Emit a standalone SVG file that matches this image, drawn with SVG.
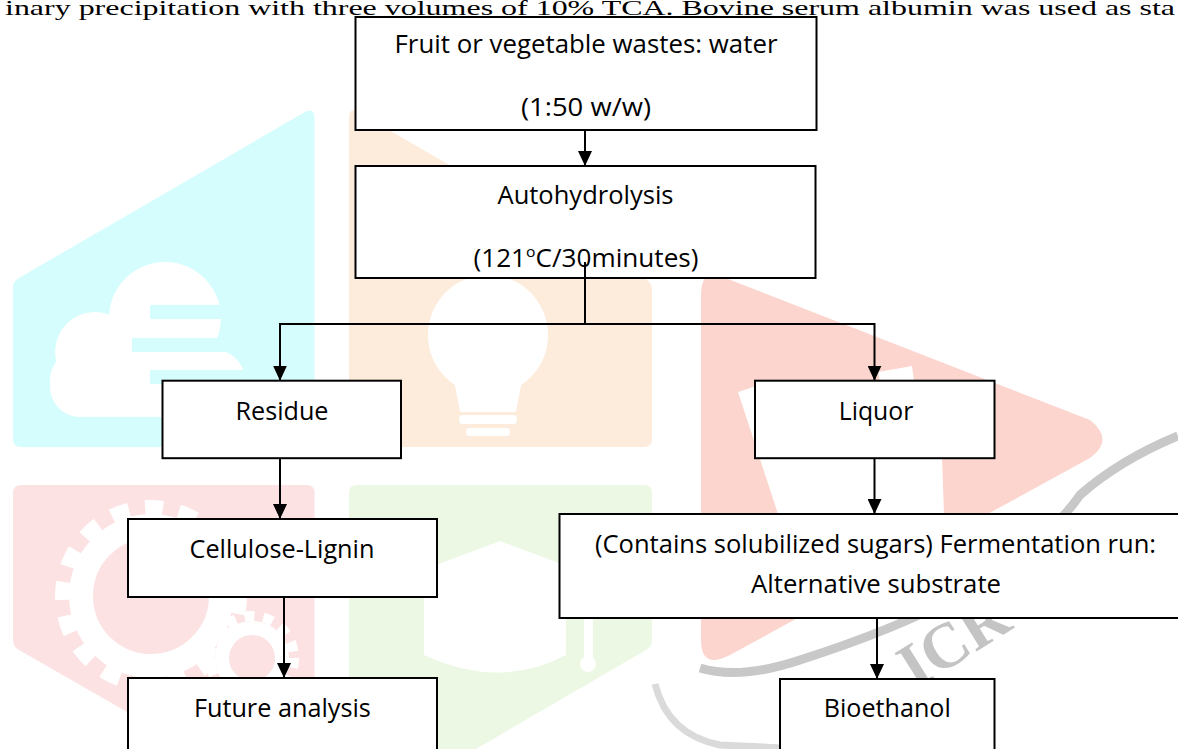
<svg xmlns="http://www.w3.org/2000/svg" width="1178" height="749" viewBox="0 0 1178 749">
<style>
.box{fill:#fff;stroke:#000;stroke-width:2}
.t{font-family:"Open Sans","Liberation Sans",sans-serif;font-size:25px;fill:#000;text-anchor:middle}
.c{stroke:#000;stroke-width:2;fill:none}
.a{marker-end:url(#ah)}
.w{fill:#fff}
</style>
<defs>
<marker id="ah" markerUnits="userSpaceOnUse" markerWidth="15" markerHeight="14" refX="15" refY="7" orient="auto">
<path d="M0,0 L15,7 L0,14 Z" fill="#000"/>
</marker>
</defs>
<rect width="1178" height="749" fill="#fff"/>
<g id="watermark">
<path d="M305 112 Q314.5 107 314.5 118 L314.5 440 Q314.5 447 307 447 L21 447 Q13 447 13 439 L13 287 Q13 281 19 278 Z" fill="#D6FDFD"/>
<path d="M358 112 L646 279 Q652 283 652 290 L652 439 Q652 447 644 447 L357 447 Q349 447 349 439 L349 118 Q349 107 358 112 Z" fill="#FDECDC"/>
<path d="M21 485 L307 485 Q314.5 485 314.5 493 L314.5 760 L211 760 L19 650 Q13 647 13 640 L13 493 Q13 485 21 485 Z" fill="#FCE2E2"/>
<path d="M357 485 L644 485 Q652 485 652 493 L652 640 Q652 647 646 650 L457 760 L349 760 L349 493 Q349 485 357 485 Z" fill="#ECF8E3"/>
<g class="w">
<circle cx="165" cy="318" r="56"/>
<circle cx="95" cy="352" r="40"/>
<rect x="50" y="350" width="195" height="67" rx="30"/>
</g>
<g fill="#D6FDFD">
<rect x="150" y="305" width="110" height="14"/>
<rect x="132" y="338" width="130" height="14"/>
<rect x="150" y="370" width="110" height="14"/>
</g>
<g class="w">
<circle cx="488" cy="335" r="60"/>
<path d="M452 370 L524 370 L516 412 L460 412 Z"/>
<rect x="459" y="415" width="58" height="9" rx="4"/>
<rect x="466" y="428" width="44" height="8" rx="4"/>
</g>
<g fill="none" stroke="#fff">
<circle cx="151" cy="596" r="70" stroke-width="24"/>
<circle cx="151" cy="596" r="88" stroke-width="16" stroke-dasharray="18 16"/>
<circle cx="252" cy="658" r="30" stroke-width="14"/>
<circle cx="252" cy="658" r="42" stroke-width="10" stroke-dasharray="10 9"/>
</g>
<g class="w">
<polygon points="404,577 500,541 597,577 500,613"/>
<path d="M424 590 L424 655 Q500 690 566 655 L566 590 Z"/>
<rect x="584" y="580" width="9" height="80" rx="4"/>
<circle cx="588" cy="664" r="8"/>
</g>
<path d="M701 295 Q701 265 728 279 L1090 420 Q1115 440 1090 458 L730 655 Q701 670 701 640 Z" fill="#FBD5CE"/>
<polygon class="w" points="738,392 762,384 800,458 942,458 944,514 778,514"/>
<polygon class="w" points="878,372 912,366 914,381 880,381"/>
<path d="M700 668 Q740 680 800 660 C900 628 1020 580 1080 495 Q1120 460 1178 436" fill="none" stroke="#C8C8C8" stroke-width="9"/>
<path d="M655 684 Q668 735 720 745 L782 748" fill="none" stroke="#DADADA" stroke-width="7"/>
<text x="915" y="690" transform="rotate(-32 915 690)" font-family="Liberation Serif, serif" font-weight="bold" font-size="64" fill="#C4C4C4">ICR</text>
</g>
<text x="5" y="15" font-family="Liberation Serif, serif" font-size="21" fill="#000" textLength="1170" lengthAdjust="spacingAndGlyphs">inary precipitation with three volumes of 10% TCA. Bovine serum albumin was used as sta</text>
<g id="connectors">
<path class="c a" d="M585 120 L585 166"/>
<path class="c" d="M585 262 L585 324 M280 324 L874.5 324"/>
<path class="c a" d="M280 323 L280 380.7"/>
<path class="c a" d="M874.5 323 L874.5 380.7"/>
<path class="c a" d="M280 458 L280 519"/>
<path class="c a" d="M284 597 L284 678"/>
<path class="c a" d="M874.5 458 L874.5 514"/>
<path class="c a" d="M877 618 L877 679"/>
</g>
<g id="n1"><rect class="box" x="355.5" y="17" width="461" height="113"/>
<text class="t" x="586" y="53" textLength="383" lengthAdjust="spacingAndGlyphs">Fruit or vegetable wastes: water</text>
<text class="t" x="586" y="116" textLength="130" lengthAdjust="spacingAndGlyphs">(1:50 w/w)</text></g>
<g id="n2"><rect class="box" x="355.5" y="166" width="460" height="112"/>
<text class="t" x="585.5" y="204" textLength="176" lengthAdjust="spacingAndGlyphs">Autohydrolysis</text>
<text class="t" x="586" y="266.5" textLength="225" lengthAdjust="spacingAndGlyphs">(121<tspan font-size="15" dy="-10">o</tspan><tspan dy="10">C/30minutes)</tspan></text></g>
<path class="c" d="M585 262 L585 278"/>
<g id="n3"><rect class="box" x="162.5" y="380.7" width="238.5" height="77.5"/>
<text class="t" x="282" y="420.4" textLength="93" lengthAdjust="spacingAndGlyphs">Residue</text></g>
<g id="n4"><rect class="box" x="755" y="380.7" width="239.5" height="77.5"/>
<text class="t" x="876" y="420" textLength="74.5" lengthAdjust="spacingAndGlyphs">Liquor</text></g>
<g id="n5"><rect class="box" x="128" y="519" width="309" height="78"/>
<text class="t" x="282" y="557.8" textLength="185" lengthAdjust="spacingAndGlyphs">Cellulose-Lignin</text></g>
<g id="n6"><rect class="box" x="559.5" y="514" width="630" height="104"/>
<text class="t" x="875.5" y="552.7" textLength="561" lengthAdjust="spacingAndGlyphs">(Contains solubilized sugars) Fermentation run:</text>
<text class="t" x="876" y="592.7" textLength="250" lengthAdjust="spacingAndGlyphs">Alternative substrate</text></g>
<g id="n7"><rect class="box" x="128" y="678" width="309" height="90"/>
<text class="t" x="282.4" y="717" textLength="177" lengthAdjust="spacingAndGlyphs">Future analysis</text></g>
<g id="n8"><rect class="box" x="780" y="679" width="214.5" height="90"/>
<text class="t" x="887.3" y="716.7" textLength="127" lengthAdjust="spacingAndGlyphs">Bioethanol</text></g>
</svg>
